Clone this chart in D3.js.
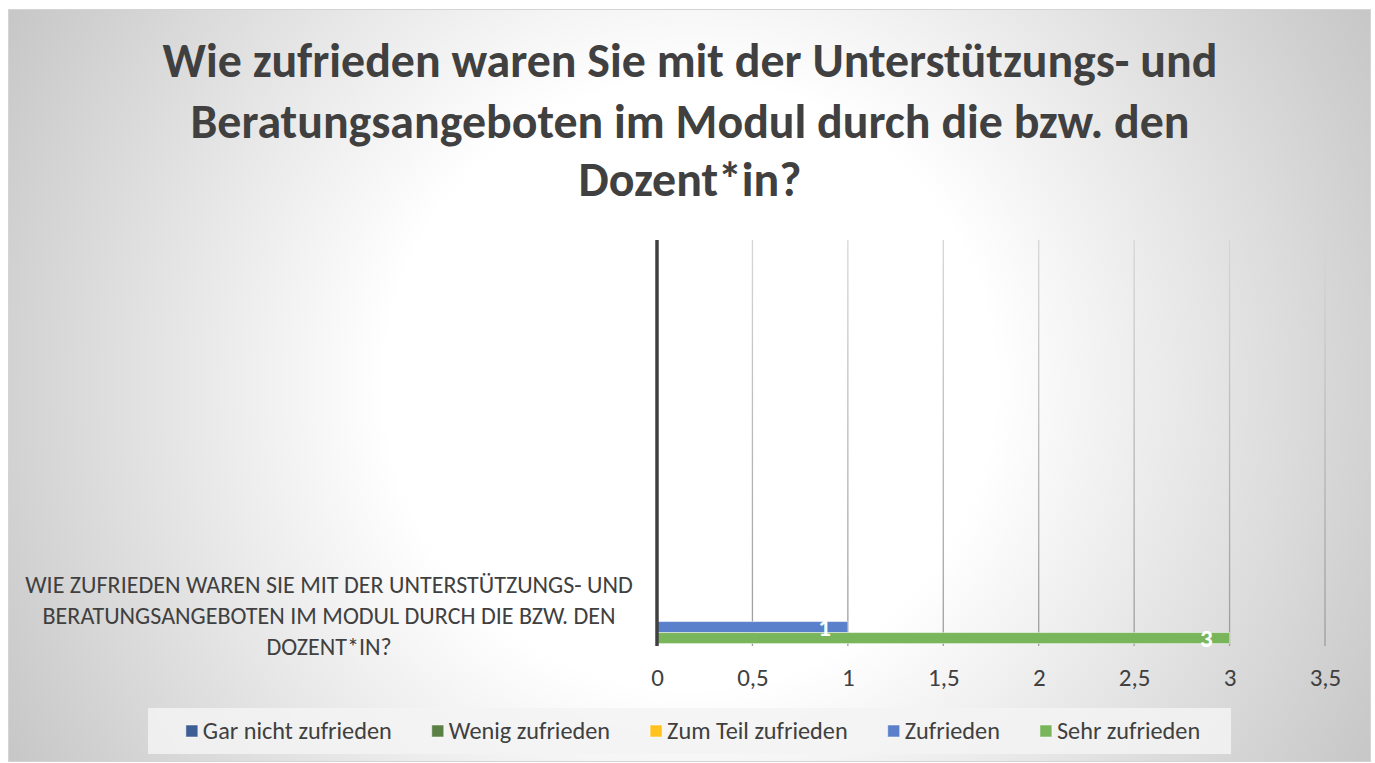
<!DOCTYPE html>
<html>
<head>
<meta charset="utf-8">
<script src="https://cdn.jsdelivr.net/npm/d3@7.9.0/dist/d3.min.js"></script>
<style>
  html, body { margin: 0; padding: 0; background: #fff; }
  svg { display: block; }
  text { font-family: Carlito, "Open Sans", sans-serif; fill: #404040; }
</style>
</head>
<body>
<svg id="chart" width="1375" height="763"></svg>
<script>
// chart data
const titleLines = [
  'Wie zufrieden waren Sie mit der Unterstützungs- und',
  'Beratungsangeboten im Modul durch die bzw. den',
  'Dozent*in?'
];
const categoryLines = [
  'WIE ZUFRIEDEN WAREN SIE MIT DER UNTERSTÜTZUNGS- UND',
  'BERATUNGSANGEBOTEN IM MODUL DURCH DIE BZW. DEN',
  'DOZENT*IN?'
];
// the Excel sheet has one filled row and six empty rows above it
const categories = ['q1', 'q2', 'q3', 'q4', 'q5', 'q6', 'q7'];
const seriesNames = ['Gar nicht zufrieden', 'Wenig zufrieden', 'Zum Teil zufrieden', 'Zufrieden', 'Sehr zufrieden'];
const seriesColors = ['#3d5e94', '#5a8044', '#ffc21f', '#5a80cc', '#79b55a'];
const seriesValues = [0, 0, 0, 1, 3];
const xTicks = [0, 0.5, 1, 1.5, 2, 2.5, 3, 3.5];

const plot = { left: 657, right: 1325, top: 240, bottom: 645 };

const svg = d3.select('#chart');
const defs = svg.append('defs');

// radial background like the Excel preset
const bg = defs.append('radialGradient')
  .attr('id', 'bg').attr('gradientUnits', 'userSpaceOnUse')
  .attr('cx', 690).attr('cy', 385).attr('r', 800);
bg.append('stop').attr('offset', 0).attr('stop-color', '#ffffff');
bg.append('stop').attr('offset', 0.38).attr('stop-color', '#ffffff');
bg.append('stop').attr('offset', 1).attr('stop-color', '#c4c4c4');

const gridGrad = defs.append('linearGradient')
  .attr('id', 'grid').attr('gradientUnits', 'userSpaceOnUse')
  .attr('x1', 0).attr('y1', plot.top).attr('x2', 0).attr('y2', plot.bottom);
gridGrad.append('stop').attr('offset', 0).attr('stop-color', '#d6d6d6');
gridGrad.append('stop').attr('offset', 1).attr('stop-color', '#9c9c9c');

svg.append('rect')
  .attr('x', 8.5).attr('y', 9.5).attr('width', 1362).attr('height', 752)
  .attr('fill', 'url(#bg)').attr('stroke', '#d4d4d4');

// fit a text's font size to a target width
function fitWidth(sel, target) {
  const w = sel.node().getComputedTextLength();
  const fs = parseFloat(sel.attr('font-size'));
  return fs * target / w;
}

// title
const titleG = svg.append('g');
const titleY = [60, 121, 179];
const t0 = titleG.append('text').attr('font-size', 40).attr('font-weight', 'bold').text(titleLines[0]);
const titleSize = fitWidth(t0, 1055);
t0.remove();
titleG.selectAll('text')
  .data(titleLines)
  .join('text')
  .attr('x', 690)
  .attr('y', (d, i) => titleY[i])
  .attr('dy', '0.35em')
  .attr('text-anchor', 'middle')
  .attr('font-weight', 'bold')
  .attr('font-size', titleSize)
  .text(d => d);

// scales
const x = d3.scaleLinear().domain([0, 3.5]).range([plot.left, plot.right]);
const yCat = d3.scaleBand().domain(categories.slice().reverse()).range([plot.top, plot.bottom]);
// first series on top, last one at the bottom of the row
const ySer = d3.scaleBand().domain(seriesNames)
  .range([0, yCat.bandwidth()]).paddingOuter(0.13);

// gridlines
svg.append('g')
  .selectAll('line')
  .data(xTicks.slice(1))
  .join('line')
  .attr('x1', d => x(d)).attr('x2', d => x(d))
  .attr('y1', plot.top).attr('y2', plot.bottom + 1)
  .attr('stroke', 'url(#grid)')
  .attr('stroke-width', 1.3);

// x axis labels
const xAxis = svg.append('g')
  .attr('transform', `translate(0,${plot.bottom + 32})`)
  .call(d3.axisBottom(x).tickValues(xTicks).tickSize(0).tickPadding(0)
    .tickFormat(d => String(d).replace('.', ',')));
xAxis.select('.domain').remove();
xAxis.attr('font-size', null).attr('font-family', null);
xAxis.selectAll('text')
  .attr('dy', '0.35em')
  .style('font-size', '25px')
  .style('fill', '#404040');

// bars
const rowY = yCat(categories[0]);
const bars = seriesNames.map((name, i) => ({ name, value: seriesValues[i], color: seriesColors[i] }))
  .filter(d => d.value > 0);

svg.append('g')
  .selectAll('rect')
  .data(bars)
  .join('rect')
  .attr('x', x(0))
  .attr('y', d => rowY + ySer(d.name))
  .attr('width', d => x(d.value) - x(0))
  .attr('height', ySer.bandwidth())
  .attr('fill', d => d.color)
  .attr('stroke', 'rgba(255,255,255,0.45)')
  .attr('stroke-width', 1);

svg.append('g')
  .selectAll('text')
  .data(bars)
  .join('text')
  .attr('x', d => x(d.value) - 17)
  .attr('y', d => rowY + ySer(d.name) + ySer.bandwidth() / 2)
  .attr('dy', '0.36em')
  .attr('text-anchor', 'end')
  .attr('font-size', 25)
  .attr('font-weight', 'bold')
  .style('fill', '#ffffff')
  .text(d => d.value);

// vertical axis line at zero
svg.append('line')
  .attr('x1', x(0)).attr('x2', x(0))
  .attr('y1', plot.top).attr('y2', plot.bottom + 1)
  .attr('stroke', '#404040')
  .attr('stroke-width', 3.5);

// category label
const catG = svg.append('g');
const c0 = catG.append('text').attr('font-size', 19).text(categoryLines[0]);
const catSize = fitWidth(c0, 608);
c0.remove();
const catMid = rowY + yCat.bandwidth() / 2;
catG.selectAll('text')
  .data(categoryLines)
  .join('text')
  .attr('x', 329)
  .attr('y', (d, i) => catMid + (i - 1) * 31)
  .attr('dy', '0.35em')
  .attr('text-anchor', 'middle')
  .attr('font-size', catSize)
  .text(d => d);

// legend
const legend = svg.append('g');
legend.append('rect')
  .attr('x', 148).attr('y', 708).attr('width', 1083).attr('height', 46)
  .attr('fill', '#f3f3f3').attr('fill-opacity', 0.85);

const l0 = legend.append('text').attr('font-size', 19).text(seriesNames[0]);
const legSize = fitWidth(l0, 189);
l0.remove();

const items = legend.selectAll('g.item')
  .data(seriesNames)
  .join('g')
  .attr('class', 'item');
items.append('rect')
  .attr('width', 12).attr('height', 12)
  .attr('y', 725)
  .attr('fill', (d, i) => seriesColors[i])
  .attr('stroke', 'rgba(255,255,255,0.5)');
items.append('text')
  .attr('x', 17)
  .attr('y', 731)
  .attr('dy', '0.35em')
  .attr('font-size', legSize)
  .text(d => d);

// lay legend items out centered
const gap = 40;
const widths = items.nodes().map(n => 17 + d3.select(n).select('text').node().getComputedTextLength());
const total = d3.sum(widths) + gap * (widths.length - 1);
let cx = 693 - total / 2;
items.each(function (d, i) {
  d3.select(this).attr('transform', `translate(${cx},0)`);
  cx += widths[i] + gap;
});
</script>
</body>
</html>
